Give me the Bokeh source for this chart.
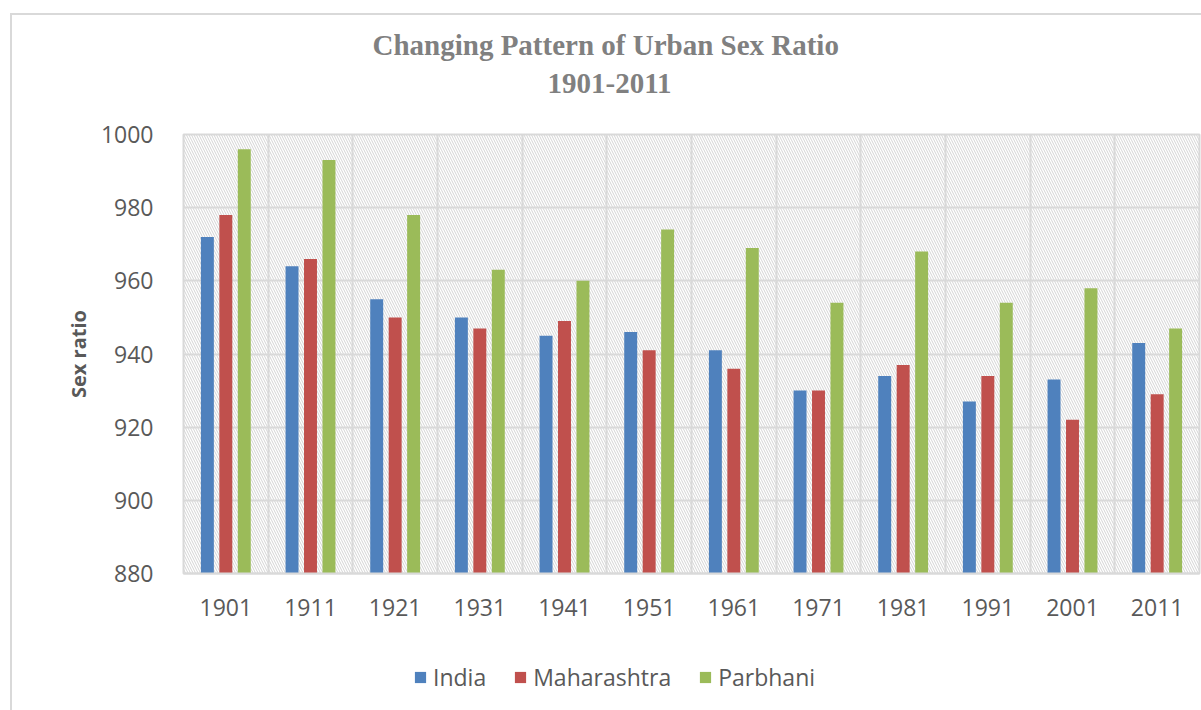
from bokeh.plotting import figure
from bokeh.layouts import column
from bokeh.models import (ColumnDataSource, Range1d, FixedTicker, Legend, LegendItem,
                          BoxAnnotation, Title, LinearAxis)
from bokeh.transform import dodge
from bokeh.embed import file_html
from bokeh.resources import INLINE

# ---- data ----
years = [1901, 1911, 1921, 1931, 1941, 1951, 1961, 1971, 1981, 1991, 2001, 2011]
year_labels = [str(y) for y in years]
india = [972, 964, 955, 950, 945, 946, 941, 930, 934, 927, 933, 943]
maharashtra = [978, 966, 950, 947, 949, 941, 936, 930, 937, 934, 922, 929]
parbhani = [996, 993, 978, 963, 960, 974, 969, 954, 968, 954, 958, 947]
series_names = ["India", "Maharashtra", "Parbhani"]
colors = ["#4F81BD", "#C0504D", "#9BBB59"]
y_ticks = [880, 900, 920, 940, 960, 980, 1000]
title_lines = ["Changing Pattern of Urban Sex Ratio", "1901-2011"]

src = ColumnDataSource(dict(year=years, India=india, Maharashtra=maharashtra, Parbhani=parbhani))

FONT = "Open Sans"
TXT = "#595959"
GRID = "#D9D9D9"
W = 1189
step = years[1] - years[0]
offs = [-0.218 * step, 0.0, 0.218 * step]

# ---------------- main chart ----------------
p = figure(width=W, height=610, output_backend="svg", toolbar_location=None,
           x_range=Range1d(years[0] - 5, years[-1] + 5),
           y_range=Range1d(y_ticks[0], y_ticks[-1]),
           min_border_left=171, min_border_right=2, min_border_top=118, min_border_bottom=52)
p.background_fill_color = "white"
p.border_fill_color = "white"
p.outline_line_color = GRID
p.outline_line_width = 2

hatch = BoxAnnotation(fill_color=None, fill_alpha=0, line_color=None,
                      hatch_pattern="\\", hatch_color="#D4D4D4", hatch_scale=5,
                      hatch_weight=1, level="image")
p.add_layout(hatch)

for name, col, off in zip(series_names, colors, offs):
    p.vbar(x=dodge("year", off, range=p.x_range), top=name, bottom=y_ticks[0],
           width=0.153 * step, source=src, fill_color=col, line_color=None)

p.xaxis.ticker = FixedTicker(ticks=years)
p.xaxis.major_label_overrides = {y: l for y, l in zip(years, year_labels)}
p.xaxis.major_tick_line_color = None
p.xaxis.minor_tick_line_color = None
p.xaxis.axis_line_color = GRID
p.xaxis.axis_line_width = 2
p.xaxis.major_label_text_font = FONT
p.xaxis.major_label_text_font_size = "23px"
p.xaxis.major_label_text_color = TXT
p.xaxis.major_label_standoff = 19

p.yaxis.ticker = FixedTicker(ticks=y_ticks)
p.yaxis.major_tick_line_color = None
p.yaxis.minor_tick_line_color = None
p.yaxis.axis_line_color = None
p.yaxis.major_label_text_font = FONT
p.yaxis.major_label_text_font_size = "23px"
p.yaxis.major_label_text_color = TXT
p.yaxis.major_label_standoff = 24
p.yaxis.axis_label = "Sex ratio"
p.yaxis.axis_label_text_font = FONT
p.yaxis.axis_label_text_font_size = "20px"
p.yaxis.axis_label_text_font_style = "bold"
p.yaxis.axis_label_text_color = TXT
p.yaxis.axis_label_standoff = 6

p.xgrid.ticker = FixedTicker(ticks=[y - step / 2 for y in years] + [years[-1] + step / 2])
p.xgrid.grid_line_color = GRID
p.xgrid.grid_line_width = 2
p.ygrid.grid_line_color = GRID
p.ygrid.grid_line_width = 2

# spacer between frame and title (axis with one invisible tick)
spacer = LinearAxis(ticker=FixedTicker(ticks=[years[0]]), major_tick_out=42, major_tick_in=0,
                    major_tick_line_color=None, minor_tick_line_color=None,
                    axis_line_color=None, major_label_standoff=0,
                    major_label_text_color=None, major_label_text_font_size="1px")
p.add_layout(spacer, "above")
p.add_layout(Title(text=title_lines[1], align="left", offset=364, vertical_align="bottom",
                   standoff=0, text_font="Liberation Serif", text_font_style="bold",
                   text_font_size="29px", text_color="#808080"), "above")
p.add_layout(Title(text=title_lines[0], align="left", offset=189, vertical_align="bottom",
                   standoff=22, text_font="Liberation Serif", text_font_style="bold",
                   text_font_size="29px", text_color="#808080"), "above")

# ---------------- legend strip ----------------
# the strip's y-range lies far above the data, so its bars fall off-canvas and only
# their legend swatches are shown
leg = figure(width=W, height=85, output_backend="svg", toolbar_location=None,
             x_axis_type=None, y_axis_type=None, x_range=p.x_range,
             y_range=Range1d(50 * y_ticks[-1], 50 * y_ticks[-1] + 1),
             min_border_left=171, min_border_right=2, min_border_top=0, min_border_bottom=0,
             outline_line_color=None)
leg.background_fill_color = "white"
leg.border_fill_color = "white"
leg_renderers = []
for name, col, off in zip(series_names, colors, offs):
    r = leg.vbar(x=dodge("year", off, range=leg.x_range), top=name, bottom=y_ticks[0],
                 width=0.153 * step, source=src, fill_color=col, line_color=None)
    leg_renderers.append(r)

legend = Legend(items=[LegendItem(label=n, renderers=[r]) for n, r in zip(series_names, leg_renderers)],
                orientation="horizontal", location=(230, 17),
                label_text_font=FONT, label_text_font_size="23px", label_text_color=TXT,
                glyph_width=14, glyph_height=14, label_standoff=6, spacing=27,
                padding=0, margin=0, border_line_color=None, background_fill_alpha=0)
leg.add_layout(legend)

layout = column(p, leg, spacing=0)
layout.margin = (13, 0, 0, 10)
layout.styles = {"border-left": "2px solid #D9D9D9", "border-top": "2px solid #D9D9D9"}

open("out.html", "w").write(file_html(layout, INLINE))
